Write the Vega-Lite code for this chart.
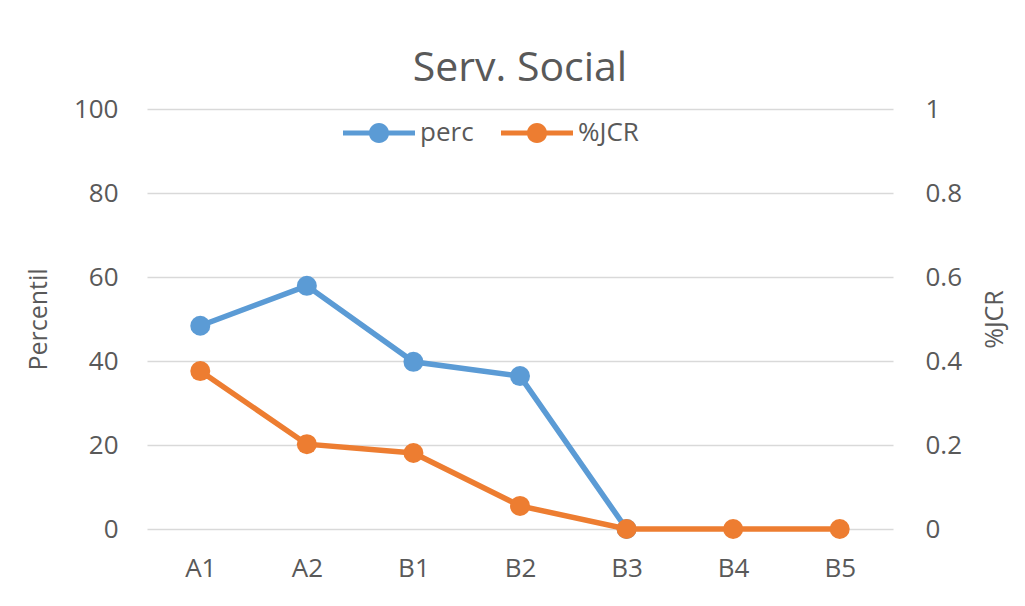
{
  "$schema": "https://vega.github.io/schema/vega-lite/v6.json",
  "autosize": "none",
  "width": 746,
  "height": 420,
  "padding": {"left": 147, "top": 109, "right": 132, "bottom": 77},
  "background": "white",
  "config": {
    "font": "Open Sans",
    "view": {"stroke": null},
    "axis": {"labelColor": "#595959", "titleColor": "#595959", "labelFontSize": 26, "titleFontSize": 25, "titleFontWeight": "normal", "domain": false, "ticks": false, "gridColor": "#d9d9d9", "gridWidth": 1.5}
  },
  "title": {"text": "Serv. Social", "fontSize": 41, "fontWeight": "normal", "color": "#595959", "offset": 6},
  "data": {"values": [
    {"cat": "A1", "perc": 48.4, "jcr": 0.376},
    {"cat": "A2", "perc": 57.9, "jcr": 0.202},
    {"cat": "B1", "perc": 39.8, "jcr": 0.181},
    {"cat": "B2", "perc": 36.4, "jcr": 0.055},
    {"cat": "B3", "perc": 0, "jcr": 0},
    {"cat": "B4", "perc": null, "jcr": 0},
    {"cat": "B5", "perc": null, "jcr": 0}
  ]},
  "encoding": {
    "x": {"field": "cat", "type": "nominal", "sort": null, "scale": {"paddingInner": 0, "paddingOuter": 0.5},
      "axis": {"title": null, "labelAngle": 0, "labelPadding": 26, "grid": false}}
  },
  "layer": [
    {
      "mark": {"type": "line", "strokeWidth": 5.5, "point": {"filled": true, "size": 400, "opacity": 1}},
      "encoding": {
        "y": {"field": "perc", "type": "quantitative", "scale": {"domain": [0, 100]},
          "axis": {"title": "Percentil", "values": [0, 20, 40, 60, 80, 100], "labelPadding": 29, "titlePadding": 22, "grid": true}},
        "color": {"datum": "perc", "type": "nominal",
          "scale": {"domain": ["perc", "%JCR"], "range": ["#5b9bd5", "#ed7d31"]},
          "legend": {"title": null, "orient": "none", "legendX": 196, "legendY": -12, "direction": "horizontal",
            "symbolType": "M-1,-0.07 H1 V0.07 H-1 Z M0.28,0 A0.28,0.28 0 1,1 -0.28,0 A0.28,0.28 0 1,1 0.28,0 Z",
            "symbolSize": 5184, "symbolStrokeWidth": 0, "symbolOpacity": 1, "labelFontSize": 26, "labelColor": "#595959", "labelOffset": 5, "columnPadding": 27}}
      }
    },
    {
      "mark": {"type": "line", "strokeWidth": 5.5, "point": {"filled": true, "size": 400, "opacity": 1}},
      "encoding": {
        "y": {"field": "jcr", "type": "quantitative", "scale": {"domain": [0, 1]},
          "axis": {"title": "%JCR", "orient": "right", "titleAngle": 270, "values": [0, 0.2, 0.4, 0.6, 0.8, 1], "format": "~g", "labelPadding": 32, "titlePadding": 46, "grid": false}},
        "color": {"datum": "%JCR", "type": "nominal"}
      }
    }
  ],
  "resolve": {"scale": {"y": "independent"}}
}
